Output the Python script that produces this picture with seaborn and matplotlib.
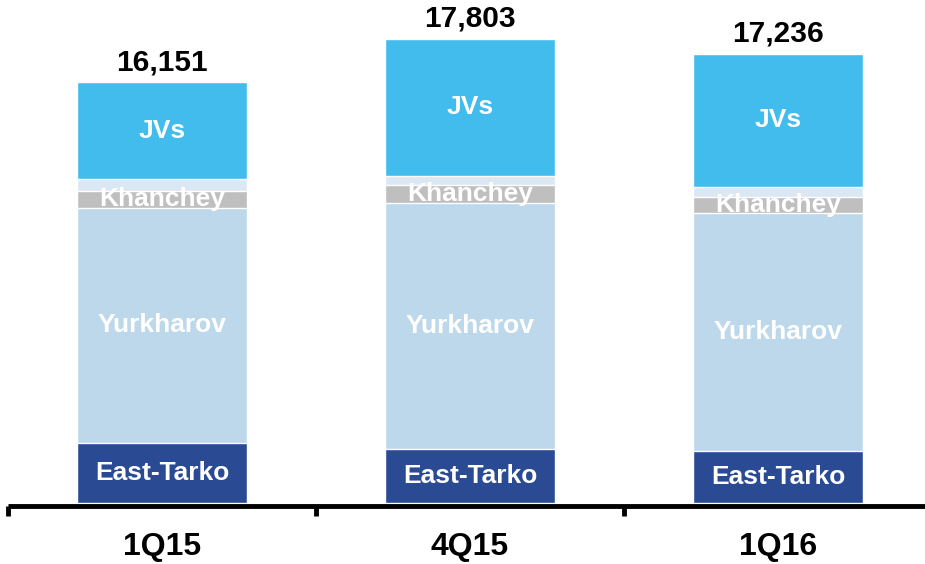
import matplotlib
matplotlib.use("Agg")
import matplotlib.pyplot as plt
import seaborn as sns
import numpy as np
import pandas as pd

categories = ["1Q15", "4Q15", "1Q16"]
totals = [16151, 17803, 17236]
east_tarko = [2330, 2088, 2012]
yurkharov = [9005, 9415, 9109]
khanchey = [651, 713, 636]
other = [448, 333, 383]
jvs = [3717, 5254, 5096]

layers = [
    ("East-Tarko", east_tarko, "#2A4A93", True),
    ("Yurkharov", yurkharov, "#BDD8EB", True),
    ("Khanchey", khanchey, "#BFBFBF", True),
    ("Other", other, "#DCE7F4", False),
    ("JVs", jvs, "#41BCEC", True),
]

sns.set_theme(style="white")
plt.rcParams["font.family"] = ["Liberation Sans", "DejaVu Sans"]

fig = plt.figure(figsize=(9.25, 5.64), dpi=100)
ax = fig.add_axes([8 / 925, 58 / 564, 924 / 925, 506 / 564])

# cumulative tops
cum = np.zeros(len(categories))
bottoms = []
tops = []
for name, vals, col, lab in layers:
    bottoms.append(cum.copy())
    cum = cum + np.array(vals)
    tops.append(cum.copy())

# draw from the tallest cumulative layer downward
for (name, vals, col, lab), top in reversed(list(zip(layers, tops))):
    df = pd.DataFrame({"cat": categories, "val": top})
    sns.barplot(data=df, x="cat", y="val", color=col, saturation=1,
                width=0.552, edgecolor="white", linewidth=1.0,
                errorbar=None, ax=ax, zorder=2)

# segment labels
for (name, vals, col, lab), b, t in zip(layers, bottoms, tops):
    if not lab:
        continue
    for i in range(len(categories)):
        ax.text(i, (b[i] + t[i]) / 2, name, ha="center", va="center",
                color="white", fontsize=19, fontweight="bold", zorder=5)

# totals
for i, tot in enumerate(totals):
    ax.text(i, tot + 230, f"{tot:,}", ha="center", va="bottom",
            color="black", fontsize=21.5, fontweight="bold", zorder=5)

ax.set_xlim(-0.5, 2.5)
ax.set_ylim(-96, 19294)
ax.set_xlabel("")
ax.set_ylabel("")
ax.set_yticks([])
for s in ["top", "right", "left"]:
    ax.spines[s].set_visible(False)
ax.spines["bottom"].set_color("black")
ax.spines["bottom"].set_linewidth(3.5)
ax.spines["bottom"].set_zorder(6)
ax.spines["bottom"].set_capstyle("butt")

ax.set_xticks(range(len(categories)))
ax.set_xticklabels(categories, fontsize=23, fontweight="bold", color="black")
ax.tick_params(axis="x", which="major", length=0, pad=19)
ax.set_xticks([-0.5, 0.5, 1.5, 2.5], minor=True)
ax.tick_params(axis="x", which="minor", direction="out", length=7,
               width=3.5, color="black", bottom=True)

fig.savefig("out.png", dpi=100)
